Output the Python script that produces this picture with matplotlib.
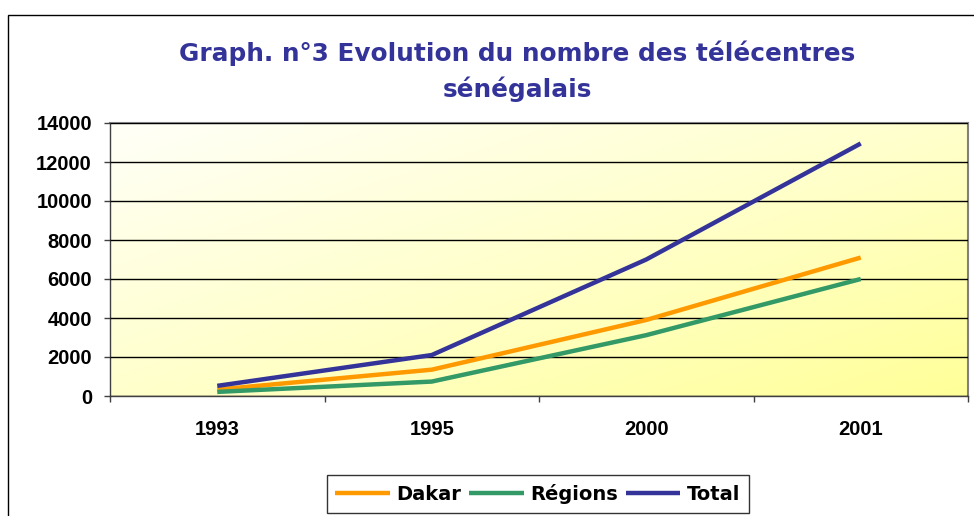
import numpy as np
import matplotlib
matplotlib.use("Agg")
import matplotlib.pyplot as plt
from matplotlib.patches import Rectangle
from matplotlib.colors import LinearSegmentedColormap

plt.rcParams['font.family'] = ['Liberation Sans', 'DejaVu Sans']

years = ["1993", "1995", "2000", "2001"]
dakar = [330, 1350, 3900, 7100]
regions = [210, 740, 3120, 6000]
total = [520, 2100, 7000, 12950]
title_lines = ["Graph. n°3 Evolution du nombre des télécentres", "sénégalais"]

W, H = 974, 516
fig = plt.figure(figsize=(W / 100, H / 100), dpi=100)
fig.patch.set_facecolor("white")

# outer chart frame (cropped at right and bottom)
fig.patches.append(Rectangle((8 / W, -0.1), 1.2, (H - 15) / H + 0.1, transform=fig.transFigure,
                             fill=False, edgecolor="black", linewidth=1.0, clip_on=False))

ax = fig.add_axes([110 / W, (H - 396) / H, 858 / W, 273 / H])

# diagonal gradient background
cmap = LinearSegmentedColormap.from_list("bg", ["#FFFFF8", "#FFFFCC", "#FFFF99"])
u = np.linspace(0, 1, 300)
v = np.linspace(0, 1, 200)
U, V = np.meshgrid(u, v)
T = (U + V) / 2.0
ax.imshow(T, cmap=cmap, extent=[0, 1, 0, 1], transform=ax.transAxes, aspect="auto",
          origin="upper", zorder=0, vmin=0, vmax=1)

x = np.arange(len(years))
ax.plot(x, dakar, color="#FF9900", lw=3.2, zorder=3, label="Dakar", solid_capstyle="butt")
ax.plot(x, regions, color="#339966", lw=3.2, zorder=3, label="Régions", solid_capstyle="butt")
ax.plot(x, total, color="#333399", lw=3.2, zorder=4, label="Total", solid_capstyle="butt")

ax.set_xlim(-0.5, len(years) - 0.5)
ax.set_ylim(0, 14000)
ax.set_yticks(np.arange(0, 14001, 2000))
ax.set_yticklabels([str(v) for v in range(0, 14001, 2000)], fontsize=14.5, fontweight="bold")
ax.yaxis.grid(True, color="black", lw=1.0)
ax.set_axisbelow(False)
for gl in ax.get_ygridlines():
    gl.set_zorder(1)

ax.set_xticks(np.arange(-0.5, len(years), 1.0))
ax.set_xticklabels([])
ax.set_xticks(x, minor=True)
ax.set_xticklabels(years, minor=True, fontsize=14.5, fontweight="bold")
ax.tick_params(axis="x", which="minor", length=0, pad=17)
ax.tick_params(axis="x", which="major", length=4.5, width=1, color="#404040")
ax.tick_params(axis="y", length=4.5, width=1, color="#404040", pad=8.5)

for s in ["top", "right"]:
    ax.spines[s].set_color("#808080")
    ax.spines[s].set_linewidth(1.5)
for s in ["left", "bottom"]:
    ax.spines[s].set_color("#404040")
    ax.spines[s].set_linewidth(1.0)

title_font = dict(ha="center", va="baseline", fontsize=17.8, fontweight="bold",
                  color="#333399", family=["DejaVu Sans"])
fig.text(517 / W, 1 - 61 / H, title_lines[0], **title_font)
fig.text(517 / W, 1 - 97 / H, title_lines[1], **title_font)

leg = fig.legend(loc="center", bbox_to_anchor=(538 / W, 1 - 494 / H), ncol=3,
                 prop={"size": 14, "weight": "bold", "family": ["DejaVu Sans"]},
                 frameon=True, fancybox=False,
                 edgecolor="black", handlelength=2.8, handletextpad=0.35, columnspacing=0.4,
                 borderpad=0.45, borderaxespad=0)
leg.get_frame().set_linewidth(1.0)

fig.savefig("out.png", dpi=100)
